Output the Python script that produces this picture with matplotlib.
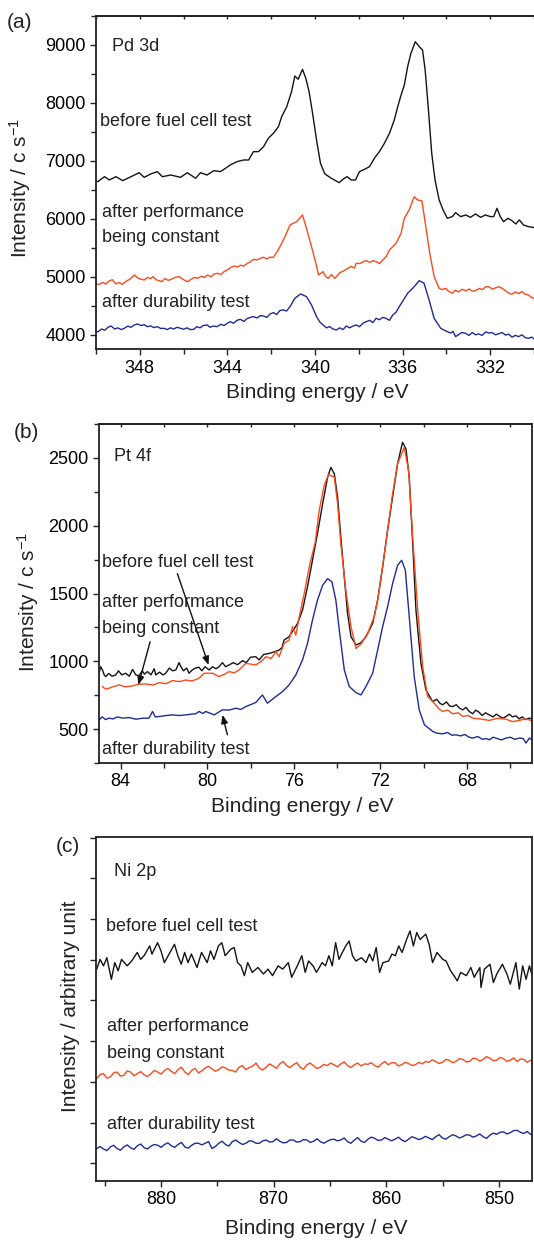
"""XPS spectra of the anode catalyst: Pd 3d, Pt 4f and Ni 2p before/after fuel cell tests.
Writes out.png (534x1240 px).
"""

import matplotlib

matplotlib.use("Agg")
import matplotlib.pyplot as plt
import numpy as np
from matplotlib.ticker import MultipleLocator, NullFormatter

plt.rcParams["font.family"] = ["Liberation Sans", "DejaVu Sans"]
plt.rcParams["mathtext.default"] = "regular"

BLACK = "#141414"
ORANGE = "#fb4a1c"
BLUE = "#1f2b98"
INK = "#222222"

# ---- Pd 3d: (binding energy eV, counts/s) ----
PD_BEFORE = [
    (350.0, 6650), (349.92, 6642), (349.61, 6728), (349.39, 6671), (349.09, 6728),
    (348.78, 6660), (348.40, 6728), (348.03, 6797), (347.80, 6717), (347.50, 6775),
    (347.20, 6815), (346.97, 6728), (346.59, 6757), (346.14, 6717), (345.83, 6797),
    (345.45, 6700), (345.23, 6797), (344.93, 6757), (344.62, 6832), (344.32, 6815),
    (344.09, 6872), (343.87, 6930), (343.56, 6987), (343.26, 7016), (343.03, 7016),
    (342.81, 7160), (342.58, 7160), (342.35, 7246), (342.13, 7390), (341.90, 7476),
    (341.67, 7591), (341.52, 7764), (341.29, 7936), (341.07, 8195), (340.92, 8465),
    (340.77, 8408), (340.57, 8580), (340.42, 8425), (340.27, 8195), (340.11, 7821),
    (339.93, 7361), (339.75, 6959), (339.55, 6775), (339.25, 6700), (338.90, 6625),
    (338.72, 6683), (338.54, 6728), (338.34, 6671), (338.15, 6671), (337.97, 6815),
    (337.74, 6855), (337.51, 6901), (337.29, 7045), (337.06, 7160), (336.83, 7304),
    (336.60, 7476), (336.38, 7706), (336.23, 7925), (336.07, 8137), (335.92, 8310),
    (335.77, 8626), (335.62, 8856), (335.42, 9057), (335.24, 8971), (335.09, 8914),
    (334.97, 8569), (334.82, 7879), (334.67, 7131), (334.52, 6671), (334.33, 6326),
    (334.15, 6154), (333.96, 6010), (333.73, 6039), (333.58, 6107), (333.35, 6039),
    (333.12, 6067), (332.90, 6027), (332.67, 6085), (332.44, 6027), (332.22, 6067),
    (331.99, 6039), (331.84, 6039), (331.69, 6182), (331.54, 6039), (331.39, 5952),
    (331.19, 6010), (331.01, 5970), (330.83, 5912), (330.67, 5981), (330.48, 5895),
    (330.25, 5866), (330.0, 5850),
]
PD_CONSTANT = [
    (350.0, 4880), (349.85, 4870), (349.7, 4905), (349.55, 4875), (349.4, 4930),
    (349.25, 4950), (349.1, 4880), (348.95, 4900), (348.8, 4870), (348.6, 4930),
    (348.45, 4960), (348.25, 5032), (348.1, 4980), (347.95, 4960), (347.8, 4946),
    (347.65, 4990), (347.5, 4970), (347.4, 5004), (347.25, 4950), (347.1, 4930),
    (347.0, 4917), (346.85, 4970), (346.7, 4940), (346.55, 4958), (346.4, 4990),
    (346.2, 5004), (346.05, 4960), (345.9, 4930), (345.8, 4917), (345.65, 4960),
    (345.5, 4990), (345.35, 4975), (345.2, 5010), (345.05, 4990), (344.9, 5032),
    (344.75, 5000), (344.6, 5050), (344.45, 5061), (344.3, 5040), (344.15, 5090),
    (344.0, 5119), (343.85, 5160), (343.7, 5187), (343.55, 5170), (343.4, 5200),
    (343.25, 5187), (343.1, 5230), (342.95, 5260), (342.8, 5303), (342.65, 5290),
    (342.5, 5320), (342.35, 5337), (342.2, 5310), (342.05, 5340), (341.9, 5337),
    (341.75, 5420), (341.60, 5521), (341.37, 5694), (341.14, 5895), (340.84, 5952),
    (340.57, 6067), (340.39, 5837), (340.16, 5521), (339.96, 5234), (339.84, 5032),
    (339.63, 5090), (339.5, 5000), (339.4, 4975), (339.25, 5040), (339.1, 4975),
    (339.0, 5010), (338.87, 5072), (338.7, 5100), (338.5, 5147), (338.35, 5180),
    (338.2, 5150), (338.12, 5234), (337.95, 5230), (337.8, 5260), (337.66, 5280),
    (337.5, 5250), (337.35, 5280), (337.21, 5262), (337.05, 5230), (336.91, 5291),
    (336.75, 5350), (336.60, 5464), (336.30, 5579), (336.07, 5751), (335.92, 6010),
    (335.70, 6154), (335.47, 6383), (335.32, 6326), (335.12, 6314), (334.94, 5866),
    (334.76, 5406), (334.56, 5004), (334.33, 4802), (334.2, 4780), (334.03, 4802),
    (333.9, 4750), (333.73, 4716), (333.6, 4770), (333.45, 4740), (333.28, 4785),
    (333.1, 4760), (332.95, 4790), (332.8, 4750), (332.67, 4762), (332.5, 4800),
    (332.35, 4780), (332.2, 4830), (332.07, 4831), (331.9, 4790), (331.75, 4810),
    (331.6, 4830), (331.46, 4802), (331.3, 4760), (331.15, 4720), (331.01, 4699),
    (330.85, 4740), (330.7, 4710), (330.55, 4745), (330.4, 4700), (330.25, 4687),
    (330.1, 4640), (330.0, 4630),
]
PD_DURABILITY = [
    (350.0, 4050), (349.9, 4055), (349.75, 4100), (349.6, 4080), (349.45, 4130),
    (349.31, 4152), (349.15, 4100), (349.0, 4120), (348.85, 4090), (348.71, 4112),
    (348.55, 4150), (348.4, 4130), (348.25, 4170), (348.1, 4187), (347.95, 4160),
    (347.8, 4175), (347.65, 4140), (347.5, 4152), (347.35, 4125), (347.2, 4140),
    (347.05, 4110), (346.89, 4112), (346.75, 4090), (346.6, 4120), (346.45, 4100),
    (346.3, 4130), (346.14, 4112), (346.0, 4095), (345.85, 4120), (345.7, 4090),
    (345.53, 4095), (345.4, 4140), (345.25, 4120), (345.1, 4160), (344.92, 4170),
    (344.8, 4130), (344.65, 4150), (344.47, 4141), (344.3, 4180), (344.15, 4160),
    (344.0, 4200), (343.87, 4227), (343.72, 4200), (343.56, 4250), (343.41, 4268),
    (343.25, 4230), (343.1, 4280), (342.95, 4300), (342.81, 4314), (342.65, 4290),
    (342.5, 4330), (342.35, 4325), (342.2, 4300), (342.05, 4360), (341.9, 4383),
    (341.75, 4350), (341.6, 4420), (341.45, 4429), (341.3, 4410), (341.14, 4486),
    (340.92, 4630), (340.66, 4705), (340.39, 4659), (340.16, 4515), (339.93, 4314),
    (339.78, 4220), (339.63, 4170), (339.48, 4120), (339.33, 4141), (339.18, 4100),
    (339.02, 4084), (338.87, 4120), (338.72, 4090), (338.57, 4152), (338.42, 4120),
    (338.27, 4150), (338.12, 4170), (337.97, 4140), (337.81, 4200), (337.66, 4227),
    (337.5, 4250), (337.36, 4210), (337.21, 4285), (337.06, 4260), (336.91, 4300),
    (336.76, 4285), (336.6, 4250), (336.45, 4342), (336.3, 4390), (336.15, 4486),
    (335.77, 4716), (335.47, 4831), (335.24, 4934), (335.02, 4889), (334.79, 4601),
    (334.56, 4285), (334.26, 4112), (334.1, 4080), (333.96, 4055), (333.8, 4030),
    (333.7, 4060), (333.58, 3969), (333.45, 4000), (333.3, 4040), (333.12, 4026),
    (332.97, 3990), (332.82, 4040), (332.67, 4000), (332.52, 4015), (332.37, 3990),
    (332.2, 4050), (332.06, 4030), (331.91, 4038), (331.76, 4000), (331.6, 4020),
    (331.46, 4040), (331.31, 3997), (331.15, 4010), (331.0, 3960), (330.85, 3990),
    (330.7, 3969), (330.55, 4000), (330.4, 3950), (330.25, 3940), (330.1, 3960),
    (330.0, 3930),
]

# ---- Pt 4f: (binding energy eV, counts/s) ----
PT_BEFORE = [
    (85.0, 912), (84.92, 960), (84.84, 936), (84.76, 900), (84.69, 887), (84.55, 910),
    (84.4, 890), (84.23, 899), (84.1, 930), (83.95, 900), (83.77, 912), (83.6, 890),
    (83.45, 940), (83.3, 900), (83.15, 894), (83.0, 930), (82.9, 905), (82.76, 924),
    (82.6, 900), (82.45, 945), (82.38, 899), (82.2, 920), (82.05, 900), (81.92, 912),
    (81.75, 950), (81.6, 930), (81.45, 936), (81.3, 990), (81.22, 961), (81.1, 930),
    (80.95, 950), (80.84, 912), (80.7, 935), (80.55, 950), (80.38, 956), (80.25, 930),
    (80.1, 960), (79.91, 936), (79.75, 960), (79.6, 945), (79.45, 961), (79.3, 990),
    (79.15, 960), (78.99, 973), (78.8, 990), (78.6, 975), (78.37, 1005), (78.2, 990),
    (78.0, 1030), (77.76, 1034), (77.6, 1010), (77.4, 1050), (77.14, 1058), (76.9, 1070),
    (76.68, 1083), (76.55, 1100), (76.45, 1157), (76.22, 1181), (75.83, 1279),
    (75.60, 1377), (75.37, 1549), (75.14, 1745), (74.91, 1941), (74.67, 2162),
    (74.44, 2358), (74.29, 2430), (74.13, 2382), (73.98, 2210), (73.83, 1916),
    (73.67, 1622), (73.52, 1353), (73.36, 1181), (73.13, 1120), (72.90, 1137),
    (72.67, 1181), (72.36, 1279), (72.13, 1451), (71.90, 1696), (71.67, 1966),
    (71.44, 2210), (71.21, 2456), (70.98, 2615), (70.82, 2566), (70.67, 2358),
    (70.51, 1867), (70.36, 1377), (70.13, 985), (69.90, 789), (69.59, 703), (69.4, 720),
    (69.25, 690), (69.13, 679), (68.95, 700), (68.8, 670), (68.66, 666), (68.5, 680),
    (68.35, 655), (68.2, 642), (68.05, 660), (67.9, 630), (67.74, 613), (67.6, 640),
    (67.45, 625), (67.3, 600), (67.15, 620), (66.97, 605), (66.8, 590), (66.65, 610),
    (66.5, 595), (66.35, 580), (66.2, 593), (66.05, 610), (65.9, 590), (65.74, 598),
    (65.6, 575), (65.45, 590), (65.3, 570), (65.12, 581), (65.0, 575),
]
PT_CONSTANT = [
    (84.84, 814), (84.7, 795), (84.54, 801), (84.3, 815), (84.07, 826), (83.8, 812),
    (83.46, 818), (83.2, 830), (82.84, 833), (82.5, 825), (82.22, 843), (81.9, 835),
    (81.61, 858), (81.3, 850), (80.99, 862), (80.7, 855), (80.38, 875), (80.14, 912),
    (79.76, 912), (79.45, 887), (79.2, 905), (78.99, 924), (78.75, 915), (78.53, 936),
    (78.22, 985), (77.76, 973), (77.5, 1000), (77.29, 1034), (77.05, 1020), (76.83, 1071),
    (76.68, 1034), (76.45, 1132), (76.22, 1157), (76.06, 1255), (75.91, 1193),
    (75.72, 1353), (75.52, 1500), (75.29, 1696), (75.01, 1880), (74.83, 2112),
    (74.60, 2296), (74.40, 2377), (74.13, 2358), (73.98, 2162), (73.83, 1867),
    (73.60, 1524), (73.36, 1255), (73.13, 1095), (72.90, 1127), (72.59, 1206),
    (72.29, 1328), (72.13, 1451), (71.90, 1696), (71.67, 1966), (71.44, 2235),
    (71.21, 2456), (70.90, 2578), (70.70, 2407), (70.51, 1916), (70.28, 1377),
    (70.05, 961), (69.82, 740), (69.51, 691), (69.3, 650), (69.13, 630), (68.9, 640),
    (68.66, 613), (68.4, 620), (68.20, 593), (67.95, 600), (67.74, 581), (67.4, 575),
    (66.97, 564), (66.6, 580), (66.20, 573), (65.9, 555), (65.58, 564), (65.35, 575),
    (65.12, 568), (65.0, 560),
]
PT_DURABILITY = [
    (85.0, 568), (84.85, 590), (84.7, 570), (84.54, 581), (84.35, 575), (84.15, 590),
    (83.92, 581), (83.6, 585), (83.30, 573), (83.0, 580), (82.69, 581), (82.53, 630),
    (82.4, 590), (82.22, 593), (81.9, 600), (81.61, 605), (81.3, 600), (80.99, 605),
    (80.75, 610), (80.53, 613), (80.38, 630), (80.2, 615), (80.07, 630), (79.68, 605),
    (79.30, 642), (79.0, 640), (78.68, 654), (78.45, 645), (78.22, 666), (77.76, 696),
    (77.45, 752), (77.22, 691), (76.83, 740), (76.52, 777), (76.22, 826), (75.91, 899),
    (75.60, 1010), (75.37, 1132), (75.14, 1304), (74.91, 1451), (74.67, 1561),
    (74.44, 1610), (74.24, 1586), (74.06, 1451), (73.90, 1230), (73.67, 936),
    (73.44, 814), (73.13, 769), (72.90, 752), (72.67, 814), (72.36, 912), (72.13, 1083),
    (71.90, 1255), (71.67, 1402), (71.44, 1573), (71.21, 1708), (71.02, 1745),
    (70.85, 1671), (70.67, 1328), (70.44, 887), (70.21, 642), (69.97, 532), (69.59, 483),
    (69.4, 470), (69.13, 465), (68.9, 475), (68.7, 455), (68.51, 458), (68.3, 450),
    (68.1, 460), (67.9, 440), (67.74, 434), (67.5, 445), (67.3, 425), (67.1, 430),
    (66.97, 421), (66.8, 440), (66.6, 430), (66.4, 420), (66.2, 434), (66.0, 440),
    (65.8, 425), (65.58, 434), (65.4, 430), (65.28, 397), (65.12, 434), (65.0, 420),
]

# ---- Ni 2p: (binding energy eV, arbitrary units) ----
NI_BEFORE = [
    (885.7, 577), (885.4, 601), (885.1, 585), (884.8, 605), (884.4, 552), (884.1, 593),
    (883.8, 573), (883.5, 601), (883.0, 585), (882.6, 597), (882.1, 618), (881.8, 601),
    (881.5, 610), (881.0, 634), (880.8, 614), (880.3, 642), (880.0, 622), (879.7, 593),
    (879.2, 618), (878.8, 638), (878.5, 610), (878.2, 589), (877.9, 618), (877.6, 593),
    (877.3, 614), (876.8, 581), (876.4, 618), (875.9, 593), (875.6, 622), (875.3, 601),
    (874.9, 634), (874.6, 642), (874.3, 610), (873.8, 626), (873.5, 630), (873.2, 593),
    (872.9, 585), (872.6, 561), (872.3, 593), (871.9, 569), (871.4, 581), (870.9, 565),
    (870.5, 577), (870.1, 561), (869.6, 585), (869.2, 577), (868.7, 593), (868.4, 557),
    (867.9, 585), (867.5, 610), (867.2, 569), (866.9, 597), (866.5, 585), (866.2, 569),
    (865.7, 593), (865.4, 585), (865.1, 610), (864.8, 585), (864.5, 642), (864.2, 601),
    (863.9, 618), (863.6, 634), (863.3, 646), (863.0, 610), (862.7, 597), (862.2, 605),
    (861.8, 593), (861.5, 614), (861.2, 597), (860.9, 630), (860.6, 569), (860.3, 593),
    (859.8, 597), (859.5, 614), (859.2, 610), (858.9, 634), (858.6, 618), (858.2, 650),
    (857.9, 671), (857.6, 634), (857.3, 667), (857.0, 650), (856.5, 663), (856.2, 638),
    (855.9, 593), (855.5, 618), (855.0, 601), (854.7, 597), (854.3, 573), (854.0, 561),
    (853.7, 548), (853.4, 569), (852.9, 561), (852.5, 581), (852.2, 557), (851.7, 581),
    (851.6, 532), (851.3, 577), (850.8, 589), (850.5, 544), (850.2, 565), (849.7, 589),
    (849.3, 565), (849.0, 540), (848.5, 593), (848.2, 528), (847.9, 585), (847.6, 552),
    (847.3, 585), (847.1, 565),
]
# orange / blue Ni 2p traces, read on an even energy step from 885.7 to 847.2 eV
NI_CONSTANT = [
    308, 318, 320, 309, 312, 322, 324, 314, 316, 327, 324, 315, 320, 325, 317, 313,
    320, 328, 324, 319, 328, 333, 326, 320, 330, 336, 324, 318, 328, 333, 322, 327,
    334, 338, 332, 326, 330, 337, 334, 329, 328, 324, 336, 340, 330, 335, 339, 346,
    334, 329, 336, 344, 339, 333, 344, 350, 340, 335, 342, 347, 336, 331, 342, 346,
    339, 333, 336, 343, 340, 346, 342, 337, 344, 349, 340, 335, 342, 346, 339, 344,
    343, 347, 340, 336, 344, 350, 342, 347, 347, 339, 342, 348, 345, 340, 342, 348,
    344, 350, 348, 354, 350, 345, 348, 355, 353, 347, 350, 357, 355, 349, 350, 358,
    357, 351, 355, 362, 358, 352, 353, 360, 357, 350, 353, 359, 350, 356, 355, 348, 353,
]
NI_DURABILITY = [
    136, 141, 135, 131, 140, 144, 136, 132, 140, 145, 138, 134, 143, 147, 138, 135,
    142, 146, 144, 139, 146, 150, 143, 139, 146, 151, 140, 137, 144, 149, 149, 145,
    149, 153, 136, 141, 149, 154, 146, 142, 153, 157, 151, 146, 149, 155, 154, 149,
    149, 155, 157, 152, 153, 160, 154, 150, 151, 157, 157, 152, 153, 158, 157, 151,
    154, 160, 153, 149, 154, 158, 159, 155, 157, 162, 153, 149, 157, 163, 154, 151,
    159, 164, 161, 156, 157, 163, 159, 155, 159, 164, 157, 153, 159, 165, 162, 158,
    161, 166, 162, 158, 165, 170, 162, 159, 165, 170, 167, 162, 165, 170, 169, 164,
    167, 172, 165, 161, 169, 174, 171, 176, 177, 172, 175, 180, 181, 176, 173, 178, 171,
]

W, H = 534, 1240


def rect(left, top, right, bottom):
    return [left / W, 1 - bottom / H, (right - left) / W, (bottom - top) / H]


def style_axes(ax, xmaj, xmin, ymaj, ymin, top_ticks=True):
    ax.xaxis.set_major_locator(MultipleLocator(xmaj))
    ax.xaxis.set_minor_locator(MultipleLocator(xmin))
    ax.yaxis.set_major_locator(MultipleLocator(ymaj))
    ax.yaxis.set_minor_locator(MultipleLocator(ymin))
    ax.tick_params(which="both", direction="out", labelsize=13, width=1, color=INK)
    ax.tick_params(which="major", length=4.5, pad=3)
    ax.tick_params(which="minor", length=3.5)
    for s in ax.spines.values():
        s.set_linewidth(1.3)
        s.set_color(INK)
    if top_ticks:
        sec = ax.secondary_xaxis("top")
        sec.xaxis.set_major_locator(MultipleLocator(xmaj))
        sec.xaxis.set_minor_locator(MultipleLocator(xmin))
        sec.tick_params(which="both", direction="in", length=2.5, width=1, color=INK,
                        labeltop=False)
        sec.spines["top"].set_linewidth(1.3)
        sec.spines["top"].set_color(INK)


def plot_xy(ax, pairs, color):
    xy = np.array(pairs, dtype=float)
    ax.plot(xy[:, 0], xy[:, 1], color=color, lw=1.0)


def note(ax, x, y, s):
    ax.text(x, y, s, fontsize=13, va="baseline", color=INK)


fig = plt.figure(figsize=(W / 100, H / 100), dpi=100)

# (a) Pd 3d
ax = fig.add_axes(rect(96, 16, 534, 349.3))
for data, c in [(PD_BEFORE, BLACK), (PD_CONSTANT, ORANGE), (PD_DURABILITY, BLUE)]:
    plot_xy(ax, data, c)
ax.set_xlim(350, 330)
ax.set_ylim(3750, 9500)
style_axes(ax, 4, 2, 1000, 500)
ax.spines["right"].set_visible(False)
note(ax, 349.28, 8902, "Pd 3d")
note(ax, 349.84, 7602, "before fuel cell test")
note(ax, 349.74, 6027, "after performance")
note(ax, 349.74, 5607, "being constant")
note(ax, 349.74, 4475, "after durability test")

# (b) Pt 4f
ax = fig.add_axes(rect(99, 424, 532, 763))
for data, c in [(PT_BEFORE, BLACK), (PT_CONSTANT, ORANGE), (PT_DURABILITY, BLUE)]:
    plot_xy(ax, data, c)
ax.set_xlim(85, 65)
ax.set_ylim(250, 2750)
style_axes(ax, 4, 2, 500, 250)
note(ax, 84.30, 2480, "Pt 4f")
note(ax, 84.84, 1696, "before fuel cell test")
note(ax, 84.84, 1402, "after performance")
note(ax, 84.84, 1210, "being constant")
note(ax, 84.84, 316, "after durability test")
arrow = dict(arrowstyle="-|>,head_length=0.5,head_width=0.2", lw=1.0, color="#111111",
             shrinkA=0, shrinkB=0)
ax.annotate("", xy=(79.94, 973), xytext=(81.38, 1647), arrowprops=arrow)
ax.annotate("", xy=(83.18, 826), xytext=(82.64, 1144), arrowprops=arrow)
ax.annotate("", xy=(79.30, 605), xytext=(79.07, 458), arrowprops=arrow)

# (c) Ni 2p
ax = fig.add_axes(rect(95.6, 837.3, 531.7, 1180.7))
plot_xy(ax, NI_BEFORE, BLACK)
ax.plot(np.linspace(885.7, 847.2, len(NI_CONSTANT)), NI_CONSTANT, color=ORANGE, lw=1.0)
ax.plot(np.linspace(885.7, 847.2, len(NI_DURABILITY)), NI_DURABILITY, color=BLUE, lw=1.0)
ax.set_xlim(885.8, 847.1)
ax.set_ylim(57, 901)
style_axes(ax, 10, 5, 100, 100, top_ticks=False)
ax.yaxis.set_major_formatter(NullFormatter())
note(ax, 884.2, 807, "Ni 2p")
note(ax, 884.87, 671, "before fuel cell test")
note(ax, 884.75, 424, "after performance")
note(ax, 884.75, 358, "being constant")
note(ax, 884.75, 185, "after durability test")

# axis titles and panel letters in figure pixels
for x, y, s in [(317, 392, "Binding energy / eV"), (302, 807, "Binding energy / eV"),
                (316, 1229, "Binding energy / eV")]:
    fig.text(x / W, 1 - y / H, s, fontsize=15, ha="center", va="center", color=INK)
for x, y, s in [(20.4, 188, "Intensity / c s$^{-1}$"), (28, 602, "Intensity / c s$^{-1}$"),
                (70.5, 1006, "Intensity / arbitrary unit")]:
    fig.text(x / W, 1 - y / H, s, fontsize=15, ha="center", va="center", rotation=90,
             color=INK)
for x, y, s in [(7, 23, "(a)"), (13.6, 432, "(b)"), (56, 847, "(c)")]:
    fig.text(x / W, 1 - y / H, s, fontsize=15, ha="left", va="center", color=INK)

fig.savefig("out.png", dpi=100)
